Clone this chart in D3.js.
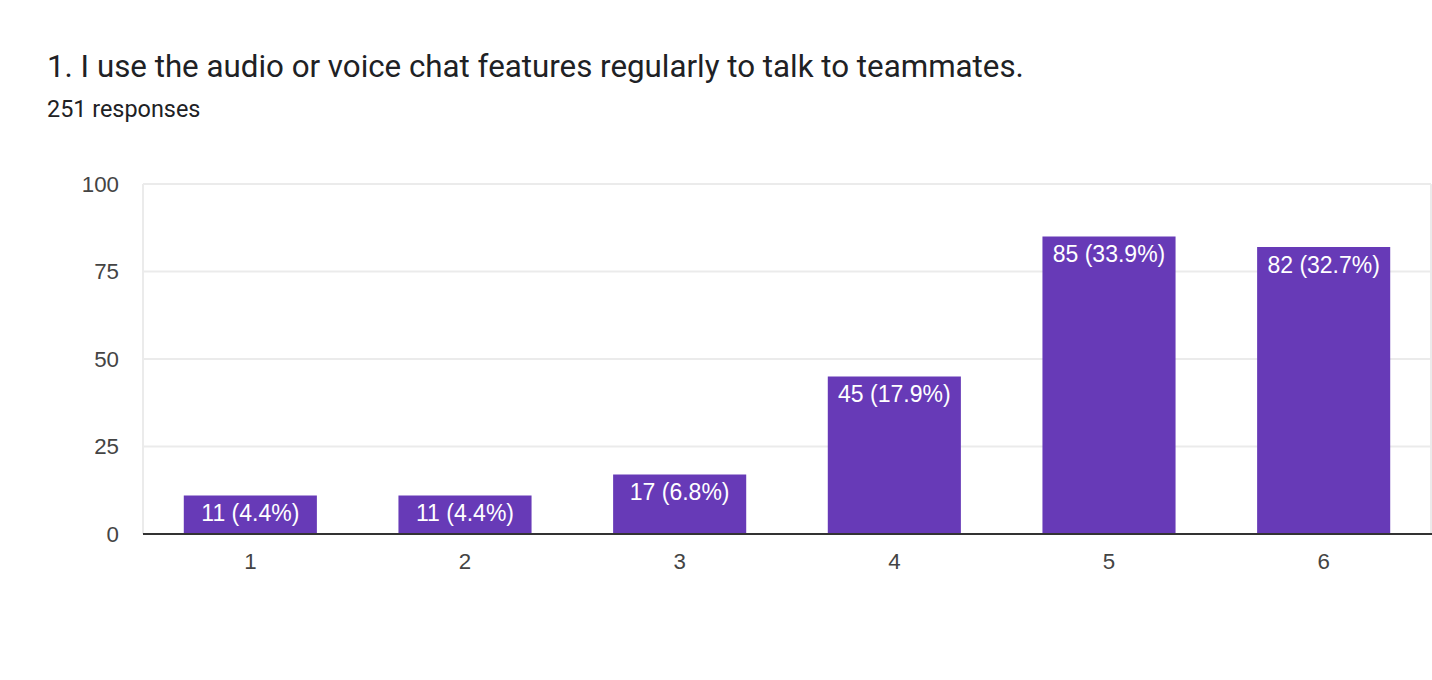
<!DOCTYPE html>
<html>
<head>
    <meta charset="utf-8">
    <script src="https://d3js.org/d3.v7.min.js"></script>
    <style>
        body { margin: 0; background: #fff; font-family: Roboto, Arial, sans-serif; }
        .title { font-family: Roboto, sans-serif; font-size: 31.3px; fill: #202124; }
        .subtitle { font-family: Roboto, sans-serif; font-size: 23.4px; fill: #202124; }
        .tick-label { font-family: "Liberation Sans", Arial, sans-serif; font-size: 22.3px; fill: #444; }
        .bar { fill: #673ab7; }
        .bar-label { font-family: "Liberation Sans", Arial, sans-serif; font-size: 23px; fill: #fff; }
    </style>
</head>
<body>
<div id="chart"></div>
<script>
    const categories = ["1", "2", "3", "4", "5", "6"];
    const counts = [11, 11, 17, 45, 85, 82];
    const percents = ["4.4%", "4.4%", "6.8%", "17.9%", "33.9%", "32.7%"];
    const yTicks = [0, 25, 50, 75, 100];

    const width = 1432;
    const height = 680;
    const plotLeft = 143, plotRight = 1431, plotTop = 184, plotBottom = 534;

    const svg = d3.select("#chart")
        .append("svg")
        .attr("width", width)
        .attr("height", height);

    svg.append("text")
        .attr("class", "title")
        .attr("x", 47)
        .attr("y", 77)
        .text("1. I use the audio or voice chat features regularly to talk to teammates.");

    svg.append("text")
        .attr("class", "subtitle")
        .attr("x", 47)
        .attr("y", 117)
        .text("251 responses");

    const x = d3.scaleBand()
        .domain(categories)
        .range([plotLeft, plotRight])
        .paddingInner(0.38)
        .paddingOuter(0.19);

    const y = d3.scaleLinear()
        .domain([0, 100])
        .range([plotBottom, plotTop]);

    // gridlines
    svg.selectAll(".grid")
        .data(yTicks.filter(d => d > 0))
        .enter()
        .append("line")
        .attr("x1", plotLeft)
        .attr("x2", plotRight)
        .attr("y1", d => y(d))
        .attr("y2", d => y(d))
        .style("stroke", "#ebebeb")
        .style("stroke-width", 2);

    // side borders of the plot
    [plotLeft, plotRight].forEach(px => {
        svg.append("line")
            .attr("x1", px).attr("x2", px)
            .attr("y1", plotTop).attr("y2", plotBottom)
            .style("stroke", "#ebebeb")
            .style("stroke-width", 2);
    });

    svg.selectAll(".y-label")
        .data(yTicks)
        .enter()
        .append("text")
        .attr("class", "tick-label")
        .attr("x", 119)
        .attr("y", d => y(d))
        .attr("dy", "0.35em")
        .attr("text-anchor", "end")
        .text(d => d);

    svg.selectAll(".bar")
        .data(counts)
        .enter()
        .append("rect")
        .attr("class", "bar")
        .attr("x", (d, i) => x(categories[i]))
        .attr("y", d => y(d))
        .attr("width", x.bandwidth())
        .attr("height", d => y(0) - y(d));

    svg.selectAll(".bar-label")
        .data(counts)
        .enter()
        .append("text")
        .attr("class", "bar-label")
        .attr("x", (d, i) => x(categories[i]) + x.bandwidth() / 2)
        .attr("y", d => y(d) + 25.5)
        .attr("text-anchor", "middle")
        .text((d, i) => d + " (" + percents[i] + ")");

    // baseline
    svg.append("line")
        .attr("x1", plotLeft)
        .attr("x2", plotRight + 1)
        .attr("y1", y(0))
        .attr("y2", y(0))
        .style("stroke", "#333")
        .style("stroke-width", 2);

    svg.selectAll(".x-label")
        .data(categories)
        .enter()
        .append("text")
        .attr("class", "tick-label")
        .attr("x", d => x(d) + x.bandwidth() / 2)
        .attr("y", 569)
        .attr("text-anchor", "middle")
        .text(d => d);
</script>
</body>
</html>
